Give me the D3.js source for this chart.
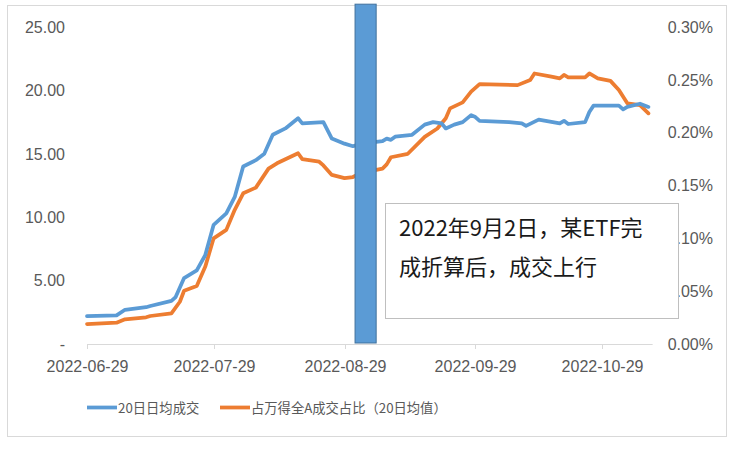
<!DOCTYPE html>
<html><head><meta charset="utf-8">
<script src="https://cdn.jsdelivr.net/npm/d3@7/dist/d3.min.js"></script>
<style>body{margin:0;background:#fff}svg{display:block}</style>
</head><body><svg id="c" width="736" height="450"></svg>
<script>
const blueDates = ["2022-06-29","2022-07-06","2022-07-08","2022-07-13","2022-07-14","2022-07-19","2022-07-20","2022-07-22","2022-07-25","2022-07-27","2022-07-29","2022-08-01","2022-08-03","2022-08-05","2022-08-08","2022-08-10","2022-08-12","2022-08-15","2022-08-18","2022-08-19","2022-08-24","2022-08-26","2022-08-29","2022-08-31","2022-09-02","2022-09-07","2022-09-08","2022-09-09","2022-09-10","2022-09-14","2022-09-17","2022-09-19","2022-09-21","2022-09-22","2022-09-24","2022-09-26","2022-09-28","2022-09-29","2022-09-30","2022-10-07","2022-10-10","2022-10-11","2022-10-14","2022-10-19","2022-10-20","2022-10-21","2022-10-25","2022-10-26","2022-10-27","2022-11-02","2022-11-03","2022-11-04","2022-11-07","2022-11-09"];
const blueValues = [2.2,2.26,2.7,2.9,3.0,3.4,3.7,5.2,5.8,7.0,9.4,10.3,11.6,14.0,14.5,15.0,16.5,17.0,17.8,17.4,17.5,16.2,15.8,15.6,15.8,16.0,16.2,16.1,16.35,16.5,17.3,17.5,17.4,17.0,17.3,17.5,18.05,17.9,17.6,17.5,17.4,17.2,17.7,17.4,17.6,17.35,17.5,18.3,18.8,18.8,18.5,18.7,18.95,18.7];
const orangeDates = ["2022-06-29","2022-07-06","2022-07-08","2022-07-13","2022-07-14","2022-07-19","2022-07-21","2022-07-22","2022-07-25","2022-07-27","2022-07-29","2022-08-01","2022-08-03","2022-08-05","2022-08-08","2022-08-11","2022-08-13","2022-08-18","2022-08-19","2022-08-23","2022-08-24","2022-08-26","2022-08-29","2022-08-31","2022-09-02","2022-09-07","2022-09-08","2022-09-09","2022-09-13","2022-09-17","2022-09-20","2022-09-22","2022-09-23","2022-09-26","2022-09-28","2022-09-30","2022-10-09","2022-10-12","2022-10-13","2022-10-17","2022-10-19","2022-10-20","2022-10-21","2022-10-25","2022-10-26","2022-10-28","2022-10-31","2022-11-02","2022-11-04","2022-11-07","2022-11-09"];
const orangeValues = [0.0189,0.0202,0.0234,0.0253,0.0265,0.029,0.040,0.0504,0.0549,0.073,0.100,0.108,0.127,0.1426,0.148,0.166,0.171,0.1805,0.175,0.1725,0.169,0.160,0.157,0.158,0.162,0.166,0.170,0.1767,0.180,0.196,0.204,0.2136,0.223,0.2287,0.2388,0.246,0.245,0.2498,0.256,0.253,0.2514,0.2546,0.2524,0.2524,0.256,0.2514,0.249,0.2404,0.2278,0.226,0.2183];
const xTickLabels = ["2022-06-29","2022-07-29","2022-08-29","2022-09-29","2022-10-29"];
const leftTicks = [0,5,10,15,20,25];
const rightTicks = [0,0.05,0.10,0.15,0.20,0.25,0.30];
const seriesNames = ["20日日均成交","占万得全A成交占比（20日均值）"];
const barStart = "2022-08-31T12:00", barEnd = "2022-09-05T12:00", barValue = 26.8;
const noteLines = ["2022年9月2日，某ETF完","成折算后，成交上行"];

const svg = d3.select("#c");
const parse = d3.isoParse;
const x = d3.scaleTime().domain([parse("2022-06-29"), parse("2022-10-29")]).range([87, 602]);
const yL = d3.scaleLinear().domain([0,25]).range([344,27]);
const yR = d3.scaleLinear().domain([0,0.30]).range([344,27]);
const font = "'Liberation Sans', Arial, sans-serif";
const cjk = "'Noto Sans CJK SC', sans-serif";
const grey = "#595959";

svg.append("rect").attr("x",7.5).attr("y",5.5).attr("width",719).attr("height",431)
  .attr("fill","#fff").attr("stroke","#d9d9d9");

// x axis
const xEnd = x(parse("2022-11-10"));
svg.append("line").attr("x1",87).attr("x2",xEnd).attr("y1",344.5).attr("y2",344.5).attr("stroke","#d9d9d9").attr("stroke-width",1);
xTickLabels.forEach(t=>{
  const px = Math.round(x(parse(t)))+0.5;
  svg.append("line").attr("x1",px).attr("x2",px).attr("y1",344).attr("y2",349).attr("stroke","#d9d9d9");
  svg.append("text").attr("x",px).attr("y",372).attr("text-anchor","middle")
    .attr("font-family",font).attr("font-size",16).attr("fill",grey).text(t);
});
leftTicks.forEach(v=>{
  svg.append("text").attr("x",65).attr("y",yL(v)).attr("dy","0.36em").attr("text-anchor","end")
    .attr("font-family",font).attr("font-size",16).attr("fill",grey).text(v===0?"-":d3.format(".2f")(v));
});
rightTicks.forEach(v=>{
  svg.append("text").attr("x",713).attr("y",yR(v)).attr("dy","0.36em").attr("text-anchor","end")
    .attr("font-family",font).attr("font-size",16).attr("fill",grey).text(d3.format(".2f")(v)+"%");
});

const lineL = d3.line().x(d=>x(d[0])).y(d=>yL(d[1]));
const lineR = d3.line().x(d=>x(d[0])).y(d=>yR(d[1]));
svg.append("path").datum(orangeDates.map((d,i)=>[parse(d),orangeValues[i]]))
  .attr("d",lineR).attr("fill","none").attr("stroke","#ED7D31").attr("stroke-width",3.75).attr("stroke-linejoin","round").attr("stroke-linecap","round");
svg.append("path").datum(blueDates.map((d,i)=>[parse(d),blueValues[i]]))
  .attr("d",lineL).attr("fill","none").attr("stroke","#5B9BD5").attr("stroke-width",3.75).attr("stroke-linejoin","round").attr("stroke-linecap","round");

// bar
svg.append("rect").attr("x",x(parse(barStart))).attr("width",x(parse(barEnd))-x(parse(barStart)))
  .attr("y",yL(barValue)).attr("height",yL(0)-yL(barValue)-1)
  .attr("fill","#5B9BD5").attr("stroke","#41719C").attr("stroke-width",1);

// annotation box
svg.append("rect").attr("x",385.5).attr("y",203.5).attr("width",293).attr("height",115)
  .attr("fill","#fff").attr("stroke","#bfbfbf");
noteLines.forEach((t,i)=>{
  svg.append("text").attr("x",399).attr("y",236+i*39).attr("font-family",cjk).attr("font-size",22)
    .attr("fill","#1a1a1a").text(t);
});

// legend
const legColors = ["#5B9BD5","#ED7D31"];
const legX = [87,220];
seriesNames.forEach((n,i)=>{
  svg.append("line").attr("x1",legX[i]).attr("x2",legX[i]+30).attr("y1",407.5).attr("y2",407.5)
    .attr("stroke",legColors[i]).attr("stroke-width",3.75);
  svg.append("text").attr("x",legX[i]+31).attr("y",412.5).attr("font-family",cjk).attr("font-size",13.3)
    .attr("fill",grey).text(n);
});
</script></body></html>
